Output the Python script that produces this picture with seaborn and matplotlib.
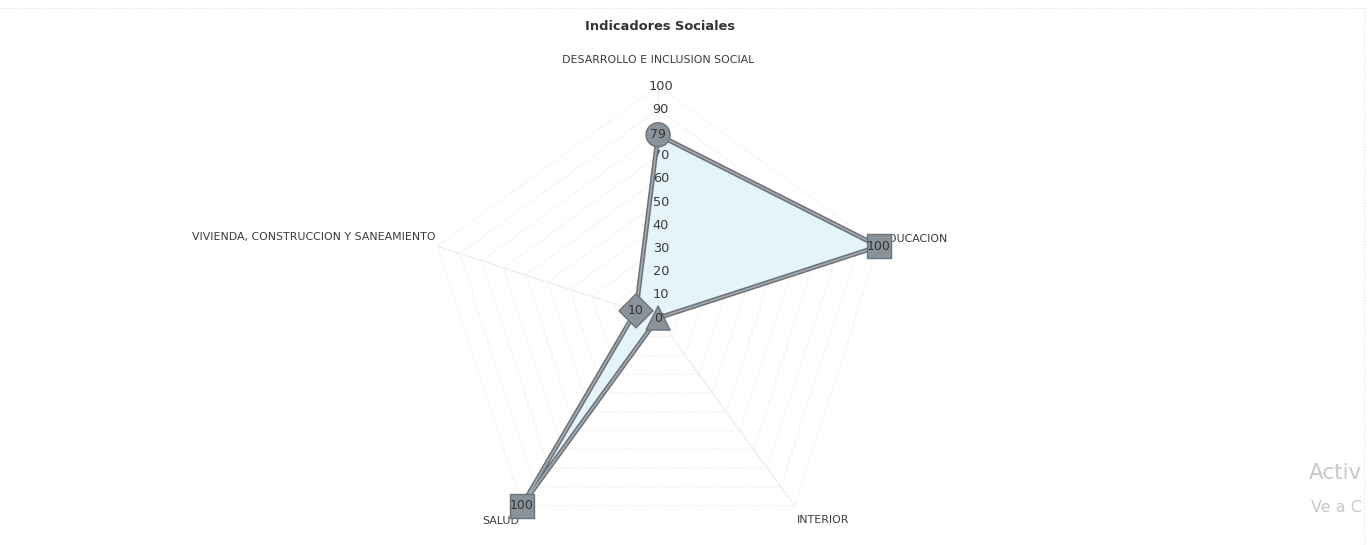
import numpy as np
import pandas as pd
import seaborn as sns
import matplotlib.pyplot as plt
from matplotlib.lines import Line2D

# Datos
categorias = ["DESARROLLO E INCLUSION SOCIAL", "EDUCACION", "INTERIOR", "SALUD",
              "VIVIENDA, CONSTRUCCION Y SANEAMIENTO"]
valores = [79, 100, 0, 100, 10]
niveles = [0, 10, 20, 30, 40, 50, 60, 70, 80, 90, 100]
marcadores = ["o", "s", "^", "s", "D"]

sns.set_theme(style="white")
plt.rcParams["font.family"] = ["DejaVu Sans"]

angulos = np.linspace(0, 2 * np.pi, len(categorias), endpoint=False)
df = pd.DataFrame({"categoria": categorias, "angulo": angulos, "valor": valores})
df_cerrado = pd.concat([df, df.iloc[:1]], ignore_index=True)

fig = plt.figure(figsize=(13.7, 5.45), dpi=100)
ax = fig.add_axes([0.311, -0.009, 0.3387, 0.851], projection="polar")
ax.set_theta_zero_location("N")
ax.set_theta_direction(-1)
ax.grid(False)
ax.spines["polar"].set_visible(False)

# rejilla poligonal
ang_cerrado = np.append(angulos, angulos[0])
for n in niveles[1:]:
    ax.plot(ang_cerrado, [n] * len(ang_cerrado), color="#e6e6e6", lw=0.8, ls=":", zorder=1)
for a in angulos:
    ax.plot([a, a], [0, 100], color="#ebebeb", lw=0.8, zorder=1)

# etiquetas del eje radial (debajo de los marcadores)
for n in niveles:
    ax.annotate(str(n), xy=(0, n), xytext=(2, 0), textcoords="offset points",
                ha="center", va="center", fontsize=9.3, color="#3a3a3a", zorder=2.5)

# area y linea
ax.fill(df_cerrado["angulo"], df_cerrado["valor"], color="#e3f3f9", alpha=0.9, zorder=2)
sns.lineplot(data=df_cerrado, x="angulo", y="valor", sort=False, estimator=None,
             color="#6c7277", lw=3.4, ax=ax, zorder=3, clip_on=False)
sns.lineplot(data=df_cerrado, x="angulo", y="valor", sort=False, estimator=None,
             color="#a3abb2", lw=1.2, ax=ax, zorder=3, clip_on=False)

# etiquetas de categorias
posiciones = [((0, 18.5), "center", "center"),
              ((2, 5.5), "left", "center"),
              ((2, -10), "left", "center"),
              ((-1.5, -11), "right", "center"),
              ((-1.5, 7), "right", "center")]
for a, cat, (off, ha, va) in zip(angulos, categorias, posiciones):
    ax.annotate(cat, xy=(a, 100), xytext=off, textcoords="offset points",
                ha=ha, va=va, fontsize=7.9, color="#3a3a3a", annotation_clip=False,
                zorder=3)

sns.scatterplot(data=df, x="angulo", y="valor", style="categoria",
                markers=dict(zip(categorias, marcadores)), s=300, color="#8b939a",
                edgecolor="#6c7277", linewidth=1, legend=False, ax=ax, zorder=4,
                clip_on=False)

ax.set_ylim(0, 100)
ax.set_xticks([])
ax.set_yticks([])
ax.set_xlabel("")
ax.set_ylabel("")

# etiquetas de datos
for a, v in zip(angulos, valores):
    ax.annotate(str(v), xy=(a, v), xytext=(0, 0), textcoords="offset points",
                ha="center", va="center", fontsize=9, color="#333333", zorder=6,
                annotation_clip=False)

fig.text(660 / 1370, 1 - 27 / 545, "Indicadores Sociales", ha="center", va="center",
         fontsize=9.4, fontweight="bold", color="#333333")

# bordes y marca de agua de la captura
fig.add_artist(Line2D([0, 1365 / 1370], [1 - 8 / 545] * 2, color="#dddddd", lw=0.8, ls=":"))
fig.add_artist(Line2D([1364 / 1370] * 2, [0, 1 - 8 / 545], color="#dddddd", lw=0.8, ls=":"))
fig.text(1362 / 1370, 1 - 473 / 545, "Activ", ha="right", va="center",
         fontsize=15.5, color="#c8c8c8")
fig.text(1362 / 1370, 1 - 507 / 545, "Ve a C", ha="right", va="center",
         fontsize=11.5, color="#c8c8c8")

fig.savefig("out.png", dpi=100)
